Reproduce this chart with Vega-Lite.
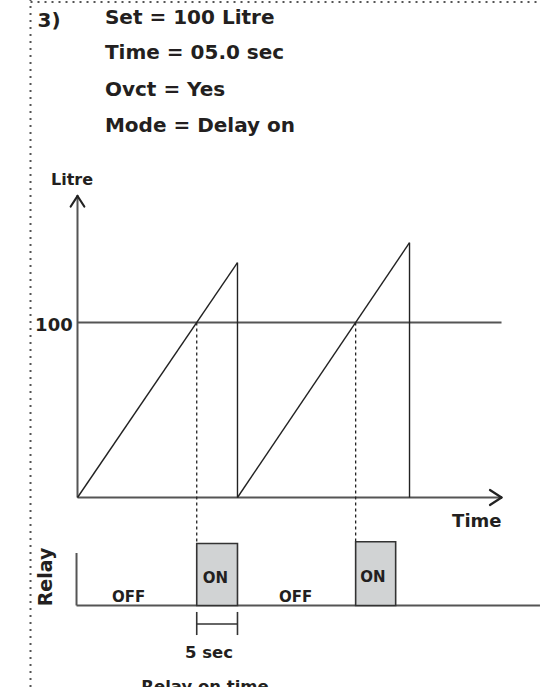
{
  "$schema": "https://vega.github.io/schema/vega-lite/v6.json",
  "width": 540,
  "height": 687,
  "autosize": {"type": "none"},
  "padding": 0,
  "background": "white",
  "config": {"view": {"stroke": null}},
  "datasets": {
    "border": [
      {"x": -5.73, "y": -108.3, "x2": -5.73, "y2": 284.3},
      {"x": -5.73, "y": 283.1, "x2": 56.4, "y2": 283.1}
    ],
    "axes": [
      {"x": 0, "y": 0, "x2": 0, "y2": 172.3},
      {"x": 0, "y": 100, "x2": 51.71, "y2": 100},
      {"x": 0, "y": 0, "x2": 51.71, "y2": 0},
      {"x": -0.12, "y": -31.7, "x2": -0.12, "y2": -61.7},
      {"x": -0.12, "y": -61.7, "x2": 56.4, "y2": -61.7}
    ],
    "arrows": [
      {"x": -0.83, "y": 166.3, "x2": 0, "y2": 172.3},
      {"x": 0, "y": 172.3, "x2": 0.83, "y2": 166.3},
      {"x": 50.3, "y": 4.29, "x2": 51.71, "y2": 0},
      {"x": 51.71, "y": 0, "x2": 50.3, "y2": -4.29}
    ],
    "saw": [
      {"x": 0, "y": 0, "x2": 19.51, "y2": 134.2},
      {"x": 19.51, "y": 134.2, "x2": 19.51, "y2": 0},
      {"x": 19.51, "y": 0, "x2": 40.49, "y2": 145.6},
      {"x": 40.49, "y": 145.6, "x2": 40.49, "y2": 0}
    ],
    "dots": [
      {"x": 14.54, "y": 100, "x2": 14.54, "y2": -26.3},
      {"x": 33.92, "y": 100, "x2": 33.92, "y2": -25.3}
    ],
    "boxes": [
      {"x": 14.54, "y": -26.3, "x2": 19.51, "y2": -61.7},
      {"x": 33.92, "y": -25.3, "x2": 38.8, "y2": -61.7}
    ],
    "bracket": [
      {"x": 14.54, "y": -65.4, "x2": 14.54, "y2": -78.6},
      {"x": 19.51, "y": -65.4, "x2": 19.51, "y2": -78.6},
      {"x": 14.54, "y": -72.3, "x2": 19.51, "y2": -72.3}
    ],
    "heading": [
      {"x": -4.88, "y": 268.6, "label": "3)"},
      {"x": 3.35, "y": 270.6, "label": "Set = 100 Litre"},
      {"x": 3.35, "y": 250.3, "label": "Time = 05.0 sec"},
      {"x": 3.35, "y": 229.4, "label": "Ovct = Yes"},
      {"x": 3.35, "y": 208.6, "label": "Mode = Delay on"}
    ],
    "litre": [{"x": -3.23, "y": 178.6, "label": "Litre"}],
    "hundred": [{"x": -0.585, "y": 94.9, "label": "100"}],
    "timelab": [{"x": 51.71, "y": -16.7, "label": "Time"}],
    "relay": [{"x": -3.11, "y": -45.4, "label": "Relay"}],
    "states": [
      {"x": 16.83, "y": -48.7, "label": "ON"},
      {"x": 36.04, "y": -48.1, "label": "ON"},
      {"x": 6.24, "y": -59.5, "label": "OFF"},
      {"x": 26.59, "y": -59.5, "label": "OFF"}
    ],
    "notes": [
      {"x": 16.04, "y": -91.9, "label": "5 sec"},
      {"x": 15.55, "y": -110.9, "label": "Relay on time"}
    ]
  },
  "encoding": {
    "x": {"field": "x", "type": "quantitative", "scale": {"domain": [-9.4512, 56.4024], "nice": false, "zero": false}, "axis": null},
    "y": {"field": "y", "type": "quantitative", "scale": {"domain": [-108.286, 284.286], "nice": false, "zero": false}, "axis": null}
  },
  "layer": [
    {
      "data": {"name": "border"},
      "mark": {"type": "rule", "color": "#555555", "strokeWidth": 2, "strokeDash": [2, 5]},
      "encoding": {"x2": {"field": "x2"}, "y2": {"field": "y2"}}
    },
    {
      "data": {"name": "axes"},
      "mark": {"type": "rule", "color": "#555555", "strokeWidth": 2},
      "encoding": {"x2": {"field": "x2"}, "y2": {"field": "y2"}}
    },
    {
      "data": {"name": "arrows"},
      "mark": {"type": "rule", "color": "#222222", "strokeWidth": 2.2, "strokeCap": "round"},
      "encoding": {"x2": {"field": "x2"}, "y2": {"field": "y2"}}
    },
    {
      "data": {"name": "saw"},
      "mark": {"type": "rule", "color": "#222222", "strokeWidth": 1.4},
      "encoding": {"x2": {"field": "x2"}, "y2": {"field": "y2"}}
    },
    {
      "data": {"name": "dots"},
      "mark": {"type": "rule", "color": "#222222", "strokeWidth": 1.3, "strokeDash": [3, 3]},
      "encoding": {"x2": {"field": "x2"}, "y2": {"field": "y2"}}
    },
    {
      "data": {"name": "boxes"},
      "mark": {"type": "rect", "fill": "#d1d3d4", "stroke": "#333333", "strokeWidth": 1.6},
      "encoding": {"x2": {"field": "x2"}, "y2": {"field": "y2"}}
    },
    {
      "data": {"name": "bracket"},
      "mark": {"type": "rule", "color": "#333333", "strokeWidth": 1.6},
      "encoding": {"x2": {"field": "x2"}, "y2": {"field": "y2"}}
    },
    {
      "data": {"name": "heading"},
      "mark": {"type": "text", "font": "DejaVu Sans", "fontWeight": "bold", "fontSize": 20, "align": "left", "baseline": "alphabetic", "color": "#231f20"},
      "encoding": {"text": {"field": "label"}}
    },
    {
      "data": {"name": "litre"},
      "mark": {"type": "text", "font": "DejaVu Sans", "fontWeight": "bold", "fontSize": 16, "align": "left", "baseline": "alphabetic", "color": "#231f20"},
      "encoding": {"text": {"field": "label"}}
    },
    {
      "data": {"name": "hundred"},
      "mark": {"type": "text", "font": "DejaVu Sans", "fontWeight": "bold", "fontSize": 18, "align": "right", "baseline": "alphabetic", "color": "#231f20"},
      "encoding": {"text": {"field": "label"}}
    },
    {
      "data": {"name": "timelab"},
      "mark": {"type": "text", "font": "DejaVu Sans", "fontWeight": "bold", "fontSize": 18, "align": "right", "baseline": "alphabetic", "color": "#231f20"},
      "encoding": {"text": {"field": "label"}}
    },
    {
      "data": {"name": "relay"},
      "mark": {"type": "text", "font": "DejaVu Sans", "fontWeight": "bold", "fontSize": 19, "align": "center", "baseline": "alphabetic", "angle": 270, "color": "#231f20"},
      "encoding": {"text": {"field": "label"}}
    },
    {
      "data": {"name": "states"},
      "mark": {"type": "text", "font": "DejaVu Sans", "fontWeight": "bold", "fontSize": 15, "align": "center", "baseline": "alphabetic", "color": "#231f20"},
      "encoding": {"text": {"field": "label"}}
    },
    {
      "data": {"name": "notes"},
      "mark": {"type": "text", "font": "DejaVu Sans", "fontWeight": "bold", "fontSize": 16.5, "align": "center", "baseline": "alphabetic", "color": "#231f20"},
      "encoding": {"text": {"field": "label"}}
    }
  ]
}
